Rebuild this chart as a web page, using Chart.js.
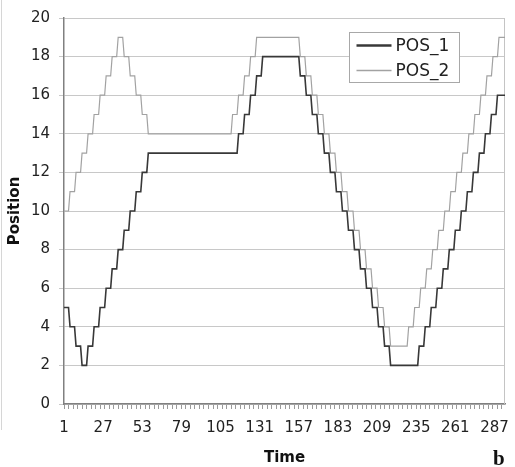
<!DOCTYPE html>
<html>
<head>
<meta charset="utf-8">
<script src="https://cdn.jsdelivr.net/npm/chart.js@4.4.1/dist/chart.umd.min.js"></script>
<style>
  html, body { margin: 0; padding: 0; background: #fff; }
  #wrap { position: relative; width: 515px; height: 467px; }
</style>
</head>
<body>
<div id="wrap"><canvas id="posChart" width="515" height="467"></canvas></div>
<script>
// Position of the two axes over time (one value per time step)
const pos1 = [
  5, 5, 5, 5, 4, 4, 4, 4, 3, 3, 3, 3, 2, 2, 2, 2, 3, 3, 3, 3,
  4, 4, 4, 4, 5, 5, 5, 5, 6, 6, 6, 6, 7, 7, 7, 7, 8, 8, 8, 8,
  9, 9, 9, 9, 10, 10, 10, 10, 11, 11, 11, 11, 12, 12, 12, 12, 13, 13, 13, 13,
  13, 13, 13, 13, 13, 13, 13, 13, 13, 13, 13, 13, 13, 13, 13, 13, 13, 13, 13, 13,
  13, 13, 13, 13, 13, 13, 13, 13, 13, 13, 13, 13, 13, 13, 13, 13, 13, 13, 13, 13,
  13, 13, 13, 13, 13, 13, 13, 13, 13, 13, 13, 13, 13, 13, 13, 13, 14, 14, 14, 14,
  15, 15, 15, 15, 16, 16, 16, 16, 17, 17, 17, 17, 18, 18, 18, 18, 18, 18, 18, 18,
  18, 18, 18, 18, 18, 18, 18, 18, 18, 18, 18, 18, 18, 18, 18, 18, 18, 17, 17, 17,
  17, 16, 16, 16, 16, 15, 15, 15, 15, 14, 14, 14, 14, 13, 13, 13, 13, 12, 12, 12,
  12, 11, 11, 11, 11, 10, 10, 10, 10, 9, 9, 9, 9, 8, 8, 8, 8, 7, 7, 7,
  7, 6, 6, 6, 6, 5, 5, 5, 5, 4, 4, 4, 4, 3, 3, 3, 3, 2, 2, 2,
  2, 2, 2, 2, 2, 2, 2, 2, 2, 2, 2, 2, 2, 2, 2, 2, 3, 3, 3, 3,
  4, 4, 4, 4, 5, 5, 5, 5, 6, 6, 6, 6, 7, 7, 7, 7, 8, 8, 8, 8,
  9, 9, 9, 9, 10, 10, 10, 10, 11, 11, 11, 11, 12, 12, 12, 12, 13, 13, 13, 13,
  14, 14, 14, 14, 15, 15, 15, 15, 16, 16, 16, 16, 16, 16
];
const pos2 = [
  10, 10, 10, 10, 11, 11, 11, 11, 12, 12, 12, 12, 13, 13, 13, 13, 14, 14, 14, 14,
  15, 15, 15, 15, 16, 16, 16, 16, 17, 17, 17, 17, 18, 18, 18, 18, 19, 19, 19, 19,
  18, 18, 18, 18, 17, 17, 17, 17, 16, 16, 16, 16, 15, 15, 15, 15, 14, 14, 14, 14,
  14, 14, 14, 14, 14, 14, 14, 14, 14, 14, 14, 14, 14, 14, 14, 14, 14, 14, 14, 14,
  14, 14, 14, 14, 14, 14, 14, 14, 14, 14, 14, 14, 14, 14, 14, 14, 14, 14, 14, 14,
  14, 14, 14, 14, 14, 14, 14, 14, 14, 14, 14, 14, 15, 15, 15, 15, 16, 16, 16, 16,
  17, 17, 17, 17, 18, 18, 18, 18, 19, 19, 19, 19, 19, 19, 19, 19, 19, 19, 19, 19,
  19, 19, 19, 19, 19, 19, 19, 19, 19, 19, 19, 19, 19, 19, 19, 19, 19, 18, 18, 18,
  18, 17, 17, 17, 17, 16, 16, 16, 16, 15, 15, 15, 15, 14, 14, 14, 14, 13, 13, 13,
  13, 12, 12, 12, 12, 11, 11, 11, 11, 10, 10, 10, 10, 9, 9, 9, 9, 8, 8, 8,
  8, 7, 7, 7, 7, 6, 6, 6, 6, 5, 5, 5, 5, 4, 4, 4, 4, 3, 3, 3,
  3, 3, 3, 3, 3, 3, 3, 3, 3, 4, 4, 4, 4, 5, 5, 5, 5, 6, 6, 6,
  6, 7, 7, 7, 7, 8, 8, 8, 8, 9, 9, 9, 9, 10, 10, 10, 10, 11, 11, 11,
  11, 12, 12, 12, 12, 13, 13, 13, 13, 14, 14, 14, 14, 15, 15, 15, 15, 16, 16, 16,
  16, 17, 17, 17, 17, 18, 18, 18, 18, 19, 19, 19, 19, 19
];
const seriesNames = ['POS_1', 'POS_2'];
const seriesColors = ['#383838', '#a2a2a2'];
const xTickLabels = ['1', '27', '53', '79', '105', '131', '157', '183', '209', '235', '261', '287'];
const yTicks = { min: 0, max: 20, step: 2 };

// time step labels 1..N for the category axis
const timeSteps = pos1.map((_, i) => String(i + 1));

// plot frame, legend box and the panel letter
const extras = {
    id: 'extras',
    beforeDatasetsDraw(chart) {
        const { ctx, chartArea: a } = chart;
        ctx.save();
        ctx.strokeStyle = '#c4c4c4';
        ctx.lineWidth = 1;
        ctx.beginPath();
        ctx.moveTo(a.right - 0.5, a.top);
        ctx.lineTo(a.right - 0.5, a.bottom);
        ctx.stroke();
        // faint outer border on the left of the figure
        ctx.strokeStyle = '#d6d6d6';
        ctx.beginPath();
        ctx.moveTo(1.5, 0);
        ctx.lineTo(1.5, 430);
        ctx.stroke();
        ctx.restore();
    },
    afterDatasetsDraw(chart) {
        const { ctx } = chart;
        const box = { x: 349.5, y: 32.5, w: 110, h: 50 };
        ctx.save();
        ctx.fillStyle = '#fff';
        ctx.strokeStyle = '#a8a8a8';
        ctx.lineWidth = 1;
        ctx.fillRect(box.x, box.y, box.w, box.h);
        ctx.strokeRect(box.x, box.y, box.w, box.h);
        ctx.font = '17px "DejaVu Sans", sans-serif';
        ctx.textBaseline = 'middle';
        chart.data.datasets.forEach((ds, i) => {
            const y = box.y + 13 + i * 25;
            ctx.strokeStyle = ds.borderColor;
            ctx.lineWidth = i === 0 ? 2.5 : 1.5;
            ctx.beginPath();
            ctx.moveTo(box.x + 7, y);
            ctx.lineTo(box.x + 42, y);
            ctx.stroke();
            ctx.fillStyle = '#222';
            ctx.fillText(ds.label, box.x + 46, y + 1);
        });
        ctx.restore();
    },
    afterDraw(chart) {
        const { ctx } = chart;
        ctx.save();
        ctx.fillStyle = '#111';
        ctx.font = 'bold 21px "Liberation Serif", serif';
        ctx.textBaseline = 'alphabetic';
        ctx.fillText('b', 493, 465);
        ctx.restore();
    }
};

const ctx = document.getElementById('posChart').getContext('2d');
const posChart = new Chart(ctx, {
    type: 'line',
    data: {
        labels: timeSteps,
        datasets: [
            { label: seriesNames[0], data: pos1, borderColor: seriesColors[0], borderWidth: 1.6, pointRadius: 0, tension: 0 },
            { label: seriesNames[1], data: pos2, borderColor: seriesColors[1], borderWidth: 1.2, pointRadius: 0, tension: 0 }
        ]
    },
    options: {
        responsive: false,
        animation: false,
        layout: { padding: { top: 16, right: 8, left: 0, bottom: 0 } },
        plugins: {
            legend: { display: false },
            tooltip: { enabled: false }
        },
        scales: {
            x: {
                type: 'category',
                offset: false,
                afterFit: s => { s.height = 63; },
                grid: {
                    drawOnChartArea: false,
                    tickLength: 5,
                    color: c => (c.index % 3 === 0 ? '#9a9a9a' : 'rgba(0,0,0,0)')
                },
                border: { color: '#808080', width: 1.5 },
                ticks: {
                    autoSkip: false,
                    maxRotation: 0,
                    minRotation: 0,
                    padding: 10,
                    color: '#222',
                    font: { family: '"DejaVu Sans", sans-serif', size: 15 },
                    callback(v) {
                        const lab = this.getLabelForValue(v);
                        return xTickLabels.includes(lab) ? lab : '';
                    }
                },
                title: {
                    display: true,
                    text: 'Time',
                    color: '#111',
                    padding: { top: 0, bottom: 0 },
                    font: { family: '"DejaVu Sans", sans-serif', size: 15, weight: 'bold' }
                }
            },
            y: {
                min: yTicks.min,
                max: yTicks.max,
                afterFit: s => { s.width = 64; },
                grid: { color: '#c8c8c8', tickLength: 5 },
                border: { color: '#808080', width: 1.5 },
                ticks: {
                    stepSize: yTicks.step,
                    padding: 9,
                    color: '#222',
                    font: { family: '"DejaVu Sans", sans-serif', size: 15 }
                },
                title: {
                    display: true,
                    text: 'Position',
                    color: '#111',
                    padding: { top: 6, bottom: 0 },
                    font: { family: '"DejaVu Sans", sans-serif', size: 15, weight: 'bold' }
                }
            }
        }
    },
    plugins: [extras]
});
</script>
</body>
</html>
